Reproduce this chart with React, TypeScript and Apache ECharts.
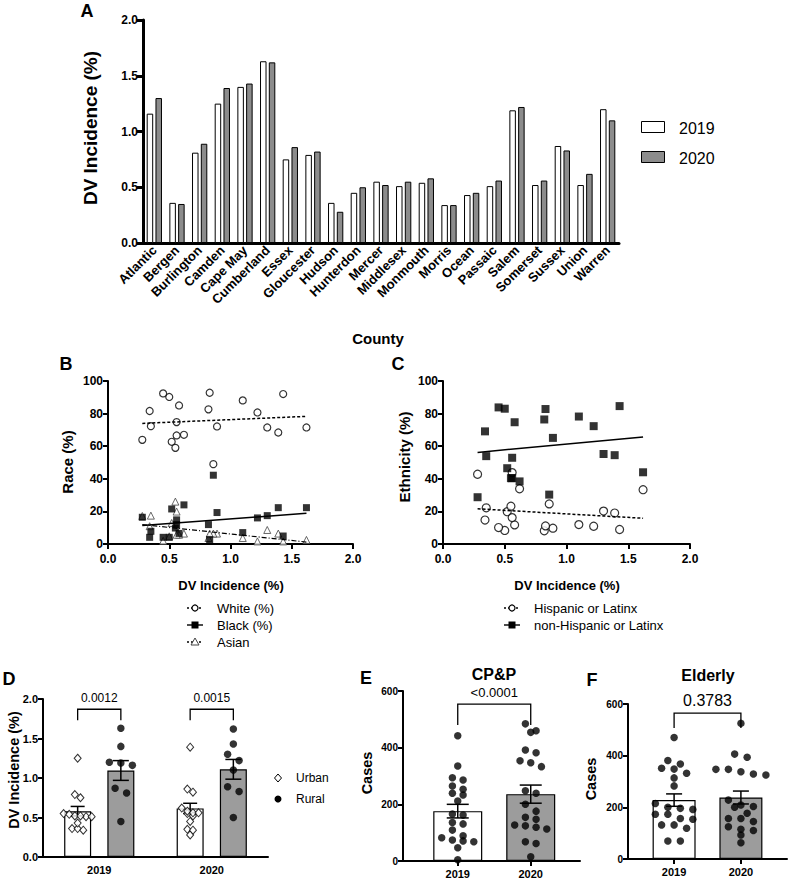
import React, { useEffect, useRef } from 'react';
import * as echarts from 'echarts';

const FONT = 'Liberation Sans, Arial, Helvetica, sans-serif';

// ---------- Panel A data ----------
const counties = ['Atlantic', 'Bergen', 'Burlington', 'Camden', 'Cape May', 'Cumberland', 'Essex', 'Gloucester', 'Hudson', 'Hunterdon', 'Mercer', 'Middlesex', 'Monmouth', 'Morris', 'Ocean', 'Passaic', 'Salem', 'Somerset', 'Sussex', 'Union', 'Warren'];
const dv2019 = [1.16, 0.36, 0.81, 1.25, 1.40, 1.63, 0.75, 0.79, 0.36, 0.45, 0.55, 0.51, 0.54, 0.34, 0.43, 0.51, 1.19, 0.52, 0.87, 0.52, 1.20];
const dv2020 = [1.30, 0.35, 0.89, 1.39, 1.43, 1.62, 0.86, 0.82, 0.28, 0.50, 0.52, 0.55, 0.58, 0.34, 0.45, 0.56, 1.22, 0.56, 0.83, 0.62, 1.10];
const rural = [1, 0, 1, 0, 1, 1, 0, 0, 0, 1, 0, 0, 0, 0, 0, 0, 1, 0, 1, 0, 1];

// ---------- Panels B & C data (per county, x = 2020 DV incidence) ----------
const whitePct = [71.5, 72.3, 72.1, 68.4, 92.0, 71.5, 49.0, 82.6, 63.9, 90.2, 62.7, 59.0, 85.0, 81.6, 92.4, 66.6, 80.7, 74.8, 92.8, 67.0, 88.1];
const blackPct = [17.4, 7.8, 19.3, 22.3, 4.9, 22.3, 42.2, 11.9, 16.4, 4.1, 21.5, 9.8, 6.5, 4.1, 4.1, 14.8, 16.0, 11.9, 2.7, 24.0, 7.0];
const asianPct = [8.6, 17.4, 6.4, 6.4, 1.6, 2.5, 6.4, 3.7, 17.2, 4.7, 12.9, 26.0, 5.7, 10.9, 2.0, 5.7, 1.6, 19.9, 6.4, 6.4, 3.7];
const hispanicPct = [20.2, 22.2, 9.7, 19.0, 8.9, 33.3, 24.6, 8.1, 42.8, 8.3, 19.8, 23.2, 11.7, 14.7, 10.1, 43.8, 10.9, 16.2, 11.1, 33.9, 11.9];
const nonHispanicPct = [55.2, 53.9, 65.1, 54.5, 84.6, 44.0, 30.3, 76.4, 28.7, 83.0, 46.5, 40.4, 74.7, 69.1, 83.8, 40.4, 72.3, 52.9, 82.8, 38.4, 78.2];
// fitted trend values at the lowest and highest DV incidence
const whiteTrend = [74.0, 78.3];
const blackTrend = [11.3, 18.9];
const asianTrend = [11.9, 1.2];
const hispanicTrend = [21.6, 15.8];
const nonHispanicTrend = [56.2, 65.7];

// ---------- Panel D ----------
const years = ['2019', '2020'];
const dUrbanMean = [0.58, 0.615];
const dUrbanSem = [0.06, 0.065];
const dRuralMean = [1.095, 1.11];
const dRuralSem = [0.125, 0.125];
const dPValues = ['0.0012', '0.0015'];

// ---------- Panel E (CP&P) ----------
const cpp2019 = [442, 335, 286, 294, 253, 265, 239, 233, 212, 162, 166, 136, 131, 109, 89, 82, 71, 74, 68, 47, 4];
const cpp2020 = [484, 460, 454, 382, 392, 354, 333, 347, 248, 239, 200, 176, 154, 147, 127, 113, 124, 119, 68, 62, 15];
const cppMean = [176, 236];
const cppSem = [24, 32];
const cppP = '<0.0001';

// ---------- Panel F (Elderly) ----------
const eld2019 = [470, 348, 368, 381, 351, 332, 314, 283, 192, 200, 215, 196, 157, 173, 173, 154, 132, 119, 132, 70, 70];
const eld2020 = [525, 406, 394, 347, 347, 338, 329, 325, 228, 209, 203, 200, 177, 157, 157, 145, 125, 115, 110, 93, 63];
const eldMean = [228, 238];
const eldSem = [24, 25];
const eldP = '0.3783';

// ---------- helpers ----------
function swarmOffsets(values: number[], pxPerUnit: number, rowPx: number, spacing: number): number[] {
  const order = values.map((_, i) => i).sort((a, b) => values[b] - values[a]);
  const out = new Array(values.length).fill(0);
  let row: number[] = [];
  let rowTop = 0;
  const flush = () => {
    row.forEach((id, k) => { out[id] = (k - (row.length - 1) / 2) * spacing; });
    row = [];
  };
  for (const id of order) {
    const px = values[id] * pxPerUnit;
    if (row.length && rowTop - px < rowPx) row.push(id);
    else { flush(); row = [id]; rowTop = px; }
  }
  flush();
  return out;
}

const black = '#000';
const lbl = (size: number, extra: any = {}) => ({ color: black, fontFamily: FONT, fontWeight: 'bold', fontSize: size, ...extra });

function valAxis(gi: number, min: number, max: number, interval: number, size: number, fmt?: (v: number) => string, lw = 2, extra: any = {}, margin = 5) {
  return {
    gridIndex: gi, type: 'value', min, max, interval,
    axisLine: { show: true, onZero: false, lineStyle: { color: black, width: lw } },
    axisTick: { show: true, length: 5, lineStyle: { color: black, width: lw } },
    axisLabel: lbl(size, { formatter: fmt, margin }),
    splitLine: { show: false },
    ...extra,
  };
}

function errorBars(ai: number, means: number[], sems: number[], offsetPx: number, capW: number) {
  return {
    type: 'custom', xAxisIndex: ai, yAxisIndex: ai, clip: false, z: 4, silent: true,
    data: means.map((m, i) => [i, m, sems[i]]),
    renderItem: (_p: any, api: any) => {
      const i = api.value(0), m = api.value(1), s = api.value(2);
      const top = api.coord([i, m + s]);
      const bot = api.coord([i, m - s]);
      const x = top[0] + offsetPx;
      const st = { stroke: black, lineWidth: 1.5 };
      return {
        type: 'group', children: [
          { type: 'line', shape: { x1: x, y1: top[1], x2: x, y2: bot[1] }, style: st },
          { type: 'line', shape: { x1: x - capW / 2, y1: top[1], x2: x + capW / 2, y2: top[1] }, style: st },
          { type: 'line', shape: { x1: x - capW / 2, y1: bot[1], x2: x + capW / 2, y2: bot[1] }, style: st },
        ],
      };
    },
  };
}

function bracket(ai: number, rows: number[][], offL: number, offR: number, texts: string[], fontSize: number, gap: number) {
  return {
    type: 'custom', xAxisIndex: ai, yAxisIndex: ai, clip: false, z: 4, silent: true,
    data: rows,
    renderItem: (p: any, api: any) => {
      const a = api.coord([api.value(0), api.value(2)]);
      const b = api.coord([api.value(1), api.value(2)]);
      const leg = api.coord([api.value(0), api.value(3)]);
      const x1 = a[0] + offL, x2 = b[0] + offR, y = a[1], yl = leg[1];
      const st = { stroke: black, lineWidth: 1.3, fill: 'none' };
      return {
        type: 'group', children: [
          { type: 'polyline', shape: { points: [[x1, yl], [x1, y], [x2, y], [x2, yl]] }, style: st },
          { type: 'text', x: (x1 + x2) / 2, y: y - gap, style: { text: texts[p.dataIndex], fill: black, fontSize, fontFamily: FONT, align: 'center', verticalAlign: 'bottom' } },
        ],
      };
    },
  };
}

function T(text: string, x: number, y: number, size: number, weight = 'bold', rotate = false, align = 'center') {
  return { type: 'text', x, y, rotation: rotate ? Math.PI / 2 : 0, silent: true, style: { text, fill: black, fontSize: size, fontWeight: weight, fontFamily: FONT, align, verticalAlign: 'middle' } };
}

function legendEntry(x: number, y: number, kind: string, dash: any, text: string) {
  const els: any[] = [
    { type: 'line', shape: { x1: x - 8, y1: y, x2: x + 8, y2: y }, style: { stroke: black, lineWidth: 1.4, lineDash: dash } },
  ];
  if (kind === 'circle') els.push({ type: 'circle', shape: { cx: x, cy: y, r: 3 }, style: { fill: '#fff', stroke: black, lineWidth: 1.2 } });
  if (kind === 'rect') els.push({ type: 'rect', shape: { x: x - 3.5, y: y - 3.5, width: 7, height: 7 }, style: { fill: black } });
  if (kind === 'tri') els.push({ type: 'polygon', shape: { points: [[x, y - 4], [x + 4, y + 3], [x - 4, y + 3]] }, style: { fill: '#fff', stroke: '#444', lineWidth: 1 } });
  els.push(T(text, x + 22, y, 13, 'normal', false, 'left'));
  return els;
}

function buildOption() {
  const grids = [
    { left: 143, top: 20, width: 476, height: 223 },
    { left: 108, top: 381, width: 245, height: 163 },
    { left: 443, top: 381, width: 247, height: 163 },
    { left: 43, top: 699, width: 225, height: 158 },
    { left: 403, top: 691, width: 177, height: 170 },
    { left: 628, top: 704, width: 159, height: 155 },
  ];

  const f1 = (v: number) => v.toFixed(1);
  const yearFmt = (v: number) => years[Math.round(v)] ?? '';

  const xAxis: any[] = [
    {
      gridIndex: 0, type: 'category', data: counties,
      axisLine: { lineStyle: { color: black, width: 3 } },
      axisTick: { alignWithLabel: true, length: 7, lineStyle: { color: black, width: 3 } },
      axisLabel: lbl(13, { rotate: 45, interval: 0, margin: 5 }),
    },
    valAxis(1, 0, 2, 0.5, 12, f1, 2, {}, 9),
    valAxis(2, 0, 2, 0.5, 12, f1, 2, {}, 9),
    {
      gridIndex: 3, type: 'category', data: years,
      axisLine: { lineStyle: { color: black, width: 2 } },
      axisTick: { show: false },
      axisLabel: lbl(11, { margin: 7 }),
    },
    {
      gridIndex: 4, type: 'value', min: -0.75, max: 1.675,
      axisLine: { show: true, onZero: false, lineStyle: { color: black, width: 2 } },
      axisTick: { show: true, length: 5, customValues: [0, 1], lineStyle: { color: black, width: 2 } },
      axisLabel: lbl(11, { customValues: [0, 1], formatter: yearFmt, margin: 7 }),
      splitLine: { show: false },
    },
    {
      gridIndex: 5, type: 'value', min: -0.69, max: 1.69,
      axisLine: { show: true, onZero: false, lineStyle: { color: black, width: 2 } },
      axisTick: { show: true, length: 5, customValues: [0, 1], lineStyle: { color: black, width: 2 } },
      axisLabel: lbl(11, { customValues: [0, 1], formatter: yearFmt, margin: 7 }),
      splitLine: { show: false },
    },
  ];

  const yAxis: any[] = [
    valAxis(0, 0, 2, 0.5, 12, f1, 3, { axisTick: { show: true, length: 6, lineStyle: { color: black, width: 3 } } }),
    valAxis(1, 0, 100, 20, 12),
    valAxis(2, 0, 100, 20, 12),
    valAxis(3, 0, 2, 0.5, 11, f1),
    valAxis(4, 0, 600, 200, 10),
    valAxis(5, 0, 600, 200, 10),
  ];

  const barBorder = { borderColor: black, borderWidth: 1 };
  const series: any[] = [];

  // ---- A ----
  series.push({ type: 'bar', name: '2019', xAxisIndex: 0, yAxisIndex: 0, data: dv2019, barWidth: 6.5, barGap: '35%', itemStyle: { color: '#fff', ...barBorder } });
  series.push({ type: 'bar', name: '2020', xAxisIndex: 0, yAxisIndex: 0, data: dv2020, barWidth: 6.5, barGap: '35%', itemStyle: { color: '#8c8c8c', ...barBorder } });

  // ---- B & C ----
  const xMin = Math.min(...dv2020);
  const xMax = Math.max(...dv2020);
  const pts = (ys: number[]) => dv2020.map((x, i) => [x, ys[i]]);
  const trend = (ai: number, t: number[], dash: any, w = 1.5) => ({
    type: 'line', xAxisIndex: ai, yAxisIndex: ai, data: [[xMin, t[0]], [xMax, t[1]]], symbol: 'none', silent: true, z: 3,
    lineStyle: { color: black, width: w, type: dash },
  });
  series.push({ type: 'scatter', xAxisIndex: 1, yAxisIndex: 1, data: pts(whitePct), symbol: 'circle', symbolSize: 7, itemStyle: { color: '#fff', borderColor: black, borderWidth: 1.2 } });
  series.push({ type: 'scatter', xAxisIndex: 1, yAxisIndex: 1, data: pts(asianPct), symbol: 'triangle', symbolSize: 7, itemStyle: { color: '#fff', borderColor: '#444', borderWidth: 1 } });
  series.push({ type: 'scatter', xAxisIndex: 1, yAxisIndex: 1, data: pts(blackPct), symbol: 'rect', symbolSize: 7, itemStyle: { color: black } });
  series.push(trend(1, whiteTrend, [3, 2]));
  series.push(trend(1, blackTrend, 'solid'));
  series.push(trend(1, asianTrend, [5, 2, 1, 2], 1.2));

  series.push({ type: 'scatter', xAxisIndex: 2, yAxisIndex: 2, data: pts(hispanicPct), symbol: 'circle', symbolSize: 8, itemStyle: { color: '#fff', borderColor: black, borderWidth: 1.2 } });
  series.push({ type: 'scatter', xAxisIndex: 2, yAxisIndex: 2, data: pts(nonHispanicPct), symbol: 'rect', symbolSize: 8, itemStyle: { color: black } });
  series.push(trend(2, hispanicTrend, [3, 2]));
  series.push(trend(2, nonHispanicTrend, 'solid'));

  // ---- D ----
  const dBarW = 27;
  const dOff = (dBarW * 2 + dBarW * 0.6) / 2 - dBarW / 2; // bar centre offset from category centre
  series.push({ type: 'bar', xAxisIndex: 3, yAxisIndex: 3, data: dUrbanMean, barWidth: dBarW, barGap: '60%', z: 2, itemStyle: { color: '#fff', borderColor: black, borderWidth: 1.2 } });
  series.push({ type: 'bar', xAxisIndex: 3, yAxisIndex: 3, data: dRuralMean, barWidth: dBarW, barGap: '60%', z: 2, itemStyle: { color: '#9c9c9c', borderColor: black, borderWidth: 1.2 } });
  series.push(errorBars(3, dUrbanMean, dUrbanSem, -dOff, 14));
  series.push(errorBars(3, dRuralMean, dRuralSem, dOff, 16));
  const dPx = 158 / 2;
  const urbanDots: any[] = [];
  const ruralDots: any[] = [];
  [dv2019, dv2020].forEach((arr, yi) => {
    const u = arr.filter((_, i) => !rural[i]);
    const r = arr.filter((_, i) => rural[i]);
    const uo = swarmOffsets(u, dPx, 5, 5.6);
    const ro = swarmOffsets(r, dPx, 7, 11.5);
    u.forEach((v, k) => urbanDots.push({ value: [yi, v], symbolOffset: [-dOff + uo[k], 0] }));
    r.forEach((v, k) => ruralDots.push({ value: [yi, v], symbolOffset: [dOff + ro[k], 0] }));
  });
  series.push({ type: 'scatter', xAxisIndex: 3, yAxisIndex: 3, data: urbanDots, symbol: 'diamond', symbolSize: [7, 8], z: 5, itemStyle: { color: '#fff', borderColor: black, borderWidth: 1 } });
  series.push({ type: 'scatter', xAxisIndex: 3, yAxisIndex: 3, data: ruralDots, symbol: 'circle', symbolSize: 7.5, z: 5, itemStyle: { color: black } });
  series.push(bracket(3, [[0, 0, 1.87, 1.73], [1, 1, 1.87, 1.73]], -dOff, dOff, dPValues, 12, 5));

  // ---- E & F ----
  const casePanel = (ai: number, d19: number[], d20: number[], mean: number[], sem: number[], barW: number, pxPerCase: number, spacing: number, capW: number, br: number[], p: string, pSize: number) => {
    series.push({
      type: 'bar', xAxisIndex: ai, yAxisIndex: ai, barWidth: barW, z: 2,
      data: [
        { value: [0, mean[0]], itemStyle: { color: '#fff' } },
        { value: [1, mean[1]], itemStyle: { color: '#9c9c9c' } },
      ],
      itemStyle: { borderColor: black, borderWidth: 1.2 },
    });
    series.push(errorBars(ai, mean, sem, 0, capW));
    const dots: any[] = [];
    [d19, d20].forEach((arr, yi) => {
      const o = swarmOffsets(arr, pxPerCase, 7, spacing);
      arr.forEach((v, k) => dots.push({ value: [yi, v], symbolOffset: [o[k], 0] }));
    });
    series.push({ type: 'scatter', xAxisIndex: ai, yAxisIndex: ai, data: dots, symbol: 'circle', symbolSize: 7.5, z: 5, itemStyle: { color: black } });
    series.push(bracket(ai, [[0, 1, br[0], br[1]]], 0, 0, [p], pSize, 5));
  };
  casePanel(4, cpp2019, cpp2020, cppMean, cppSem, 49, 170 / 600, 10.7, 22, [554, 480], cppP, 13);
  casePanel(5, eld2019, eld2020, eldMean, eldSem, 43, 155 / 600, 12.5, 16, [565, 507], eldP, 16);

  // ---- graphic texts / legends ----
  const graphic: any[] = [
    T('A', 87, 11, 18), T('B', 66, 364, 18), T('C', 398, 364, 18),
    T('D', 9, 679, 18), T('E', 366, 678, 18), T('F', 592, 680, 18),
    T('DV Incidence (%)', 90, 128, 19, 'bold', true),
    T('County', 378, 338, 15),
    { type: 'rect', shape: { x: 641.5, y: 121.5, width: 23, height: 11 }, style: { fill: '#fff', stroke: black, lineWidth: 1 } },
    { type: 'rect', shape: { x: 641.5, y: 151.5, width: 23, height: 11 }, style: { fill: '#8c8c8c', stroke: black, lineWidth: 1 } },
    T('2019', 679, 128, 16, 'normal', false, 'left'),
    T('2020', 679, 158, 16, 'normal', false, 'left'),
    T('Race (%)', 67, 462, 15, 'bold', true),
    T('Ethnicity (%)', 404, 457, 15, 'bold', true),
    T('DV Incidence (%)', 231, 585, 13),
    T('DV Incidence (%)', 567, 585, 13),
    ...legendEntry(195, 608, 'circle', [2, 2], 'White (%)'),
    ...legendEntry(195, 625, 'rect', null, 'Black (%)'),
    ...legendEntry(195, 642, 'tri', [2, 2], 'Asian'),
    ...legendEntry(512, 608, 'circle', [2, 2], 'Hispanic or Latinx'),
    ...legendEntry(512, 625, 'rect', null, 'non-Hispanic or Latinx'),
    T('DV Incidence (%)', 14, 770, 14.5, 'bold', true),
    { type: 'polygon', shape: { points: [[278, 774], [281.5, 778], [278, 782], [274.5, 778]] }, style: { fill: '#fff', stroke: black, lineWidth: 1 } },
    T('Urban', 296, 778, 12, 'normal', false, 'left'),
    { type: 'circle', shape: { cx: 278, cy: 799, r: 3.5 }, style: { fill: black } },
    T('Rural', 296, 799, 12, 'normal', false, 'left'),
    T('CP&P', 494, 674, 16),
    T('Cases', 367, 773, 14.5, 'bold', true),
    T('Elderly', 708, 675, 16),
    T('Cases', 591, 779, 14.5, 'bold', true),
  ];

  return {
    animation: false,
    backgroundColor: '#fff',
    textStyle: { fontFamily: FONT },
    grid: grids,
    xAxis, yAxis, series, graphic,
  };
}

export default function App() {
  const ref = useRef<HTMLDivElement>(null);
  useEffect(() => {
    if (!ref.current) return;
    const chart = echarts.init(ref.current, undefined, { renderer: 'svg' });
    chart.setOption(buildOption() as any);
    return () => chart.dispose();
  }, []);
  return <div ref={ref} style={{ position: 'absolute', left: 0, top: 0, width: 789, height: 887, background: '#fff' }} />;
}
